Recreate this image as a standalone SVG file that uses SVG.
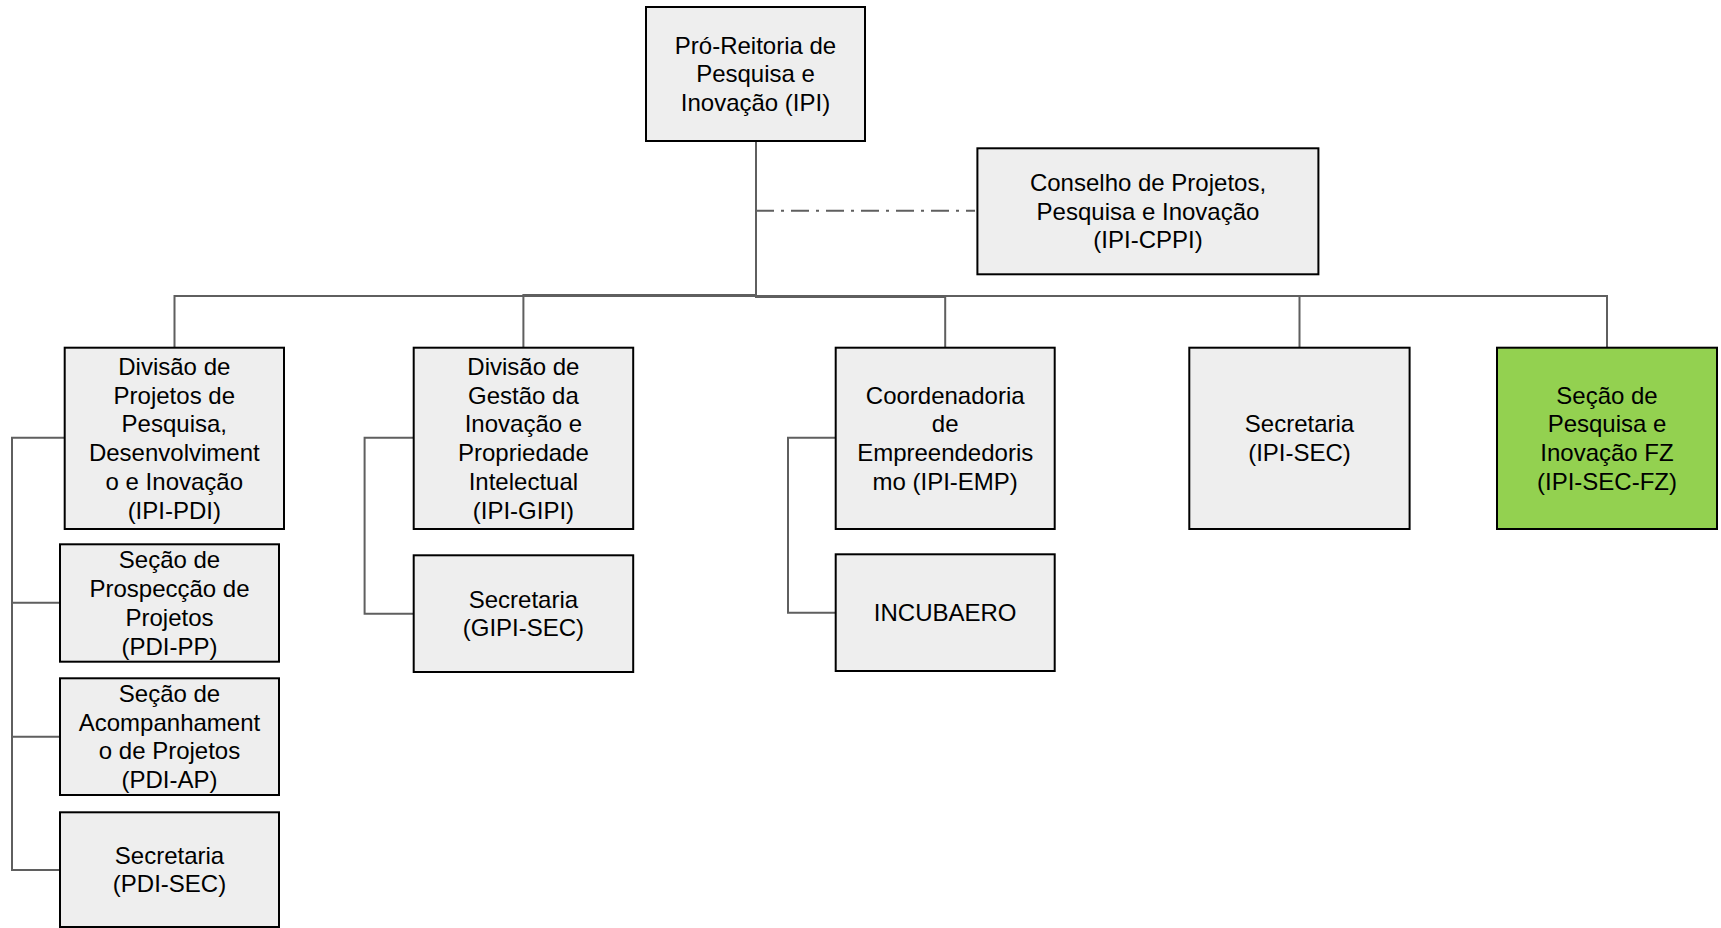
<svg xmlns="http://www.w3.org/2000/svg" width="1721" height="928" viewBox="0 0 1721 928">
<style>
.box{fill:#eeeeee;stroke:#000000;stroke-width:2}
.green{fill:#93d150;stroke:#000000;stroke-width:2}
.conn{fill:none;stroke:#5f5f5f;stroke-width:2}
.dash{fill:none;stroke:#5f5f5f;stroke-width:2;stroke-dasharray:18 7 3 7}
text{font-family:"Liberation Sans",Arial,sans-serif;font-size:24px;fill:#000000;text-anchor:middle}
</style>
<rect width="1721" height="928" fill="#ffffff"/>
<g id="connectors">
<path class="conn" d="M756 141 V296 H174.5 V348"/>
<path class="conn" d="M756 141 V295 H523.4 V348"/>
<path class="conn" d="M756 141 V297 H945.2 V348"/>
<path class="conn" d="M756 141 V296 H1299.5 V348"/>
<path class="conn" d="M756 141 V296 H1607 V348"/>
<path class="dash" d="M756 210.7 H975"/>
<path class="conn" d="M64.7 437.7 H12 V602.7 H60"/>
<path class="conn" d="M12 602.7 V736.7 H60"/>
<path class="conn" d="M12 736.7 V870 H60"/>
<path class="conn" d="M413.7 437.7 H364.6 V613.7 H413.7"/>
<path class="conn" d="M835.7 437.7 H788 V612.7 H835.7"/>
</g>
<g id="ipi">
<rect class="box" x="646" y="7" width="219" height="134"/>
<text x="755.5" y="53.5">Pró-Reitoria de</text>
<text x="755.5" y="82.3">Pesquisa e</text>
<text x="755.5" y="111.1">Inovação (IPI)</text>
</g>
<g id="cppi">
<rect class="box" x="977.4" y="148.3" width="341" height="126"/>
<text x="1148" y="190.8">Conselho de Projetos,</text>
<text x="1148" y="219.6">Pesquisa e Inovação</text>
<text x="1148" y="248.4">(IPI-CPPI)</text>
</g>
<g id="pdi">
<rect class="box" x="64.7" y="347.7" width="219.3" height="181.3"/>
<text x="174.3" y="374.7">Divisão de</text>
<text x="174.3" y="403.5">Projetos de</text>
<text x="174.3" y="432.3">Pesquisa,</text>
<text x="174.3" y="461.1">Desenvolviment</text>
<text x="174.3" y="489.9">o e Inovação</text>
<text x="174.3" y="518.7">(IPI-PDI)</text>
</g>
<g id="gipi">
<rect class="box" x="413.7" y="347.7" width="219.5" height="181.3"/>
<text x="523.4" y="374.7">Divisão de</text>
<text x="523.4" y="403.5">Gestão da</text>
<text x="523.4" y="432.3">Inovação e</text>
<text x="523.4" y="461.1">Propriedade</text>
<text x="523.4" y="489.9">Intelectual</text>
<text x="523.4" y="518.7">(IPI-GIPI)</text>
</g>
<g id="emp">
<rect class="box" x="835.7" y="347.7" width="219" height="181.3"/>
<text x="945.2" y="403.5">Coordenadoria</text>
<text x="945.2" y="432.3">de</text>
<text x="945.2" y="461.1">Empreendedoris</text>
<text x="945.2" y="489.9">mo (IPI-EMP)</text>
</g>
<g id="ipisec">
<rect class="box" x="1189.3" y="347.7" width="220.3" height="181.3"/>
<text x="1299.5" y="432.3">Secretaria</text>
<text x="1299.5" y="461.1">(IPI-SEC)</text>
</g>
<g id="ipisecfz">
<rect class="green" x="1497" y="347.7" width="220" height="181.3"/>
<text x="1607" y="403.5">Seção de</text>
<text x="1607" y="432.3">Pesquisa e</text>
<text x="1607" y="461.1">Inovação FZ</text>
<text x="1607" y="489.9">(IPI-SEC-FZ)</text>
</g>
<g id="pdipp">
<rect class="box" x="60" y="544.3" width="219" height="117.4"/>
<text x="169.5" y="568.1">Seção de</text>
<text x="169.5" y="596.9">Prospecção de</text>
<text x="169.5" y="625.7">Projetos</text>
<text x="169.5" y="654.5">(PDI-PP)</text>
</g>
<g id="pdiap">
<rect class="box" x="60" y="678.3" width="219" height="116.7"/>
<text x="169.5" y="701.8">Seção de</text>
<text x="169.5" y="730.6">Acompanhament</text>
<text x="169.5" y="759.4">o de Projetos</text>
<text x="169.5" y="788.2">(PDI-AP)</text>
</g>
<g id="pdisec">
<rect class="box" x="60" y="812.3" width="219" height="114.7"/>
<text x="169.5" y="863.6">Secretaria</text>
<text x="169.5" y="892.4">(PDI-SEC)</text>
</g>
<g id="gipisec">
<rect class="box" x="413.7" y="555.3" width="219.5" height="116.7"/>
<text x="523.4" y="607.6">Secretaria</text>
<text x="523.4" y="636.4">(GIPI-SEC)</text>
</g>
<g id="incubaero">
<rect class="box" x="835.7" y="554.3" width="219" height="116.7"/>
<text x="945.2" y="621">INCUBAERO</text>
</g>
</svg>
